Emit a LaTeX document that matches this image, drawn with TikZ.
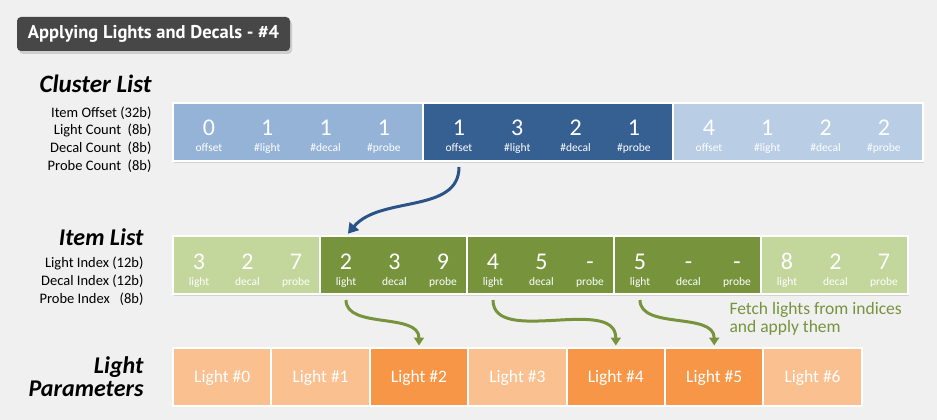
\documentclass[tikz,border=0pt]{standalone}
\usepackage{fontspec}
\setmainfont{Carlito}
\newfontfamily\ptsans{PT Sans}
\usepackage{xcolor}
\usepackage{tikz}
\usetikzlibrary{positioning}
\usetikzlibrary{arrows.meta}
\usetikzlibrary{shadows}
\definecolor{bggray}{HTML}{F0F0F0}
\definecolor{titlegray}{HTML}{474747}
\definecolor{clmid}{HTML}{95B3D7}
\definecolor{cldark}{HTML}{376092}
\definecolor{cllight}{HTML}{B9CDE5}
\definecolor{itlight}{HTML}{C3D69B}
\definecolor{itdark}{HTML}{77933C}
\definecolor{lplight}{HTML}{FAC090}
\definecolor{lpdark}{HTML}{F79646}
\definecolor{arrblue}{HTML}{2A5488}
\def\fs#1#2{\fontsize{#1}{#2}\selectfont}
\tikzset{
	cell/.style={draw=white,line width=2pt,outer sep=0pt,
		drop shadow={shadow xshift=1pt,shadow yshift=-1.5pt,opacity=.25}},
	cbox/.style={cell,minimum width=250pt,minimum height=58pt},
	ibox/.style={cell,minimum width=147pt,minimum height=58pt},
	lbox/.style={cell,minimum width=98.4pt,minimum height=58pt,text=white,
		font=\fs{17.5}{19},text height=12pt,text depth=0pt},
	num/.style={anchor=base,text=white,font=\fs{24}{24}},
	subtext/.style={anchor=base,text=white,font=\fs{11.5}{12}},
	heading/.style={anchor=east,font=\bfseries\itshape\fs{24}{23}},
	fields/.style={anchor=east,align=right,font=\fs{14.5}{17.6}},
	barrow/.style={arrblue,line width=3pt,-{Triangle[length=10pt,width=12pt]}},
	garrow/.style={itdark,line width=3pt,-{Triangle[length=8pt,width=10pt]}}
}

\begin{document}
\begin{tikzpicture}[x=1pt,y=1pt]
	\fill[bggray] (0,0) rectangle (937,-420);
	\useasboundingbox (0,0) rectangle (937,-420);
	% title
	\node[fill=titlegray,rounded corners=4pt,minimum width=273pt,minimum height=34pt,
		text=white,font=\ptsans\bfseries\fs{18.5}{20},
		drop shadow={shadow xshift=2pt,shadow yshift=-3pt,opacity=.3}] (title) at (153.5,-34) {Applying Lights and Decals - \#4};
	% cluster list
	\node[heading,font=\bfseries\itshape\fs{25}{25}] (hcl) at (155,-84) {Cluster List};
	\node[fields] (fcl) at (155,-139.5) {Item Offset (32b)\\Light Count~ (8b)\\Decal Count~ (8b)\\Probe Count~ (8b)};
	\node[cbox,fill=clmid] (cl0) at (298,-132) {};
	\node[cbox,fill=cldark,right=0pt of cl0] (cl1) {};
	\node[cbox,fill=cllight,right=0pt of cl1] (cl2) {};
	\foreach \c/\vals in {0/{0,1,1,1},1/{1,3,2,1},2/{4,1,2,2}}{
		\foreach \v [count=\i from 0] in \vals{
			\node[num] (c\c-\i) at ([xshift=36pt+\i*58.3pt,yshift=-3pt]cl\c.west) {\v};
		}
		\foreach \t [count=\i from 0] in {offset,\#light,\#decal,\#probe}{
			\node[subtext] (t\c-\i) at ([xshift=36pt+\i*58.3pt,yshift=-19pt]cl\c.west) {\t};
		}
	}
	% item list
	\node[heading] (hit) at (147,-237) {Item List};
	\node[fields,font=\fs{14.5}{18}] (fit) at (147,-281) {Light Index (12b)\\Decal Index (12b)\\Probe Index~~ (8b)};
	\node[ibox,fill=itlight] (it0) at (246.5,-265) {};
	\node[ibox,fill=itdark,right=0pt of it0] (it1) {};
	\node[ibox,fill=itdark,right=0pt of it1] (it2) {};
	\node[ibox,fill=itdark,right=0pt of it2] (it3) {};
	\node[ibox,fill=itlight,right=0pt of it3] (it4) {};
	\foreach \c/\vals in {0/{3,2,7},1/{2,3,9},2/{4,5,-},3/{5,-,-},4/{8,2,7}}{
		\foreach \v [count=\i from 0] in \vals{
			\node[num] (i\c-\i) at ([xshift=26pt+\i*48.5pt,yshift=-4pt]it\c.west) {\v};
		}
		\foreach \t [count=\i from 0] in {light,decal,probe}{
			\node[subtext] (u\c-\i) at ([xshift=26pt+\i*48.5pt,yshift=-20pt]it\c.west) {\t};
		}
	}
	% light parameters
	\node[heading,align=right] (hlp) at (147,-376.5) {Light\\Parameters};
	\node[lbox,fill=lplight] (lp0) at (222.2,-376.5) {Light \#0};
	\node[lbox,fill=lplight,right=0pt of lp0] (lp1) {Light \#1};
	\node[lbox,fill=lpdark,right=0pt of lp1] (lp2) {Light \#2};
	\node[lbox,fill=lplight,right=0pt of lp2] (lp3) {Light \#3};
	\node[lbox,fill=lpdark,right=0pt of lp3] (lp4) {Light \#4};
	\node[lbox,fill=lpdark,right=0pt of lp4] (lp5) {Light \#5};
	\node[lbox,fill=lplight,right=0pt of lp5] (lp6) {Light \#6};
	\node[anchor=west,align=left,text=itdark,font=\fs{17.5}{18}] (fetch) at (726,-319) {Fetch lights from indices\\and apply them};
	% arrows
	\draw[barrow,shorten <=6pt,shorten >=3pt] (t1-0 |- cl1.south) to[out=-90,in=50] (i1-0 |- it1.north);
	\draw[garrow,shorten <=6pt,shorten >=2pt] (i1-0 |- it1.south) to[out=-90,in=90] (lp2.north);
	\draw[garrow,shorten <=6pt,shorten >=2pt] (i2-0 |- it2.south) to[out=-90,in=90] (lp4.north);
	\draw[garrow,shorten <=6pt,shorten >=2pt] (i3-0 |- it3.south) to[out=-90,in=90] (lp5.north);
\end{tikzpicture}
\end{document}
